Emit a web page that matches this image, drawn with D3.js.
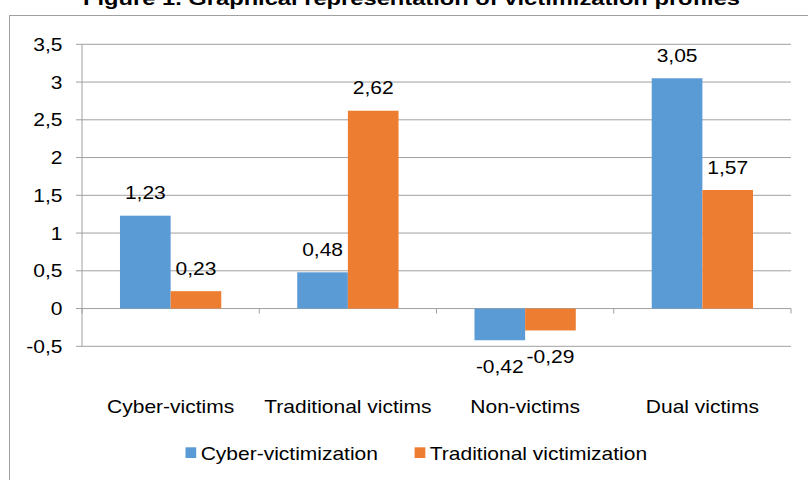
<!DOCTYPE html>
<html lang="en">
<head>
  <meta charset="UTF-8">
  <title>Graphical representation of victimization profiles</title>
  <script src="https://d3js.org/d3.v7.min.js"></script>
  <style>
    body {
      margin: 0;
      background: #fff;
      font-family: "Liberation Sans", Arial, sans-serif;
    }
    svg {
      display: block;
    }
    .grid line {
      stroke: #a0a0a0;
      stroke-width: 1px;
    }
    .lbl {
      font-size: 17.5px;
      fill: #000;
    }
  </style>
</head>
<body>
  <svg width="808" height="480"></svg>

  <script>
    const categories = ["Cyber-victims", "Traditional victims", "Non-victims", "Dual victims"];
    const seriesNames = ["Cyber-victimization", "Traditional victimization"];
    const cyberValues = [1.23, 0.48, -0.42, 3.05];
    const traditionalValues = [0.23, 2.62, -0.29, 1.57];
    const yTicks = [-0.5, 0, 0.5, 1, 1.5, 2, 2.5, 3, 3.5];

    const colors = ["#5B9BD5", "#ED7D31"];
    const stretch = 1.2; // the picture is a bit wider than it is tall
    const comma = v => String(v).replace(".", ",");

    const width = 808, height = 480;
    const plotLeft = 82, plotRight = 791, plotTop = 44.3, plotBottom = 346.3;

    const svg = d3.select("svg");

    // outer frame, only its top and left edges are in view
    svg.append("rect")
      .attr("x", 9.5).attr("y", 15.5)
      .attr("width", 900).attr("height", 600)
      .attr("fill", "none")
      .attr("stroke", "#a0a0a0");

    // helper for the widened text
    function label(g, x, y, txt, anchor) {
      return g.append("text")
        .attr("class", "lbl")
        .attr("text-anchor", anchor || "middle")
        .attr("transform", `translate(${x},${y}) scale(${stretch},1)`)
        .text(txt);
    }

    // title, cut off by the top edge
    svg.append("text")
      .attr("x", 83).attr("y", 4.5)
      .attr("font-weight", "bold")
      .attr("font-size", "17.5px")
      .attr("textLength", 657)
      .attr("lengthAdjust", "spacingAndGlyphs")
      .text("Figure 1. Graphical representation of victimization profiles");

    const y = d3.scaleLinear().domain([-0.5, 3.5]).range([plotBottom, plotTop]);
    const x0 = d3.scaleBand().domain(categories).range([plotLeft, plotRight]);
    const bw = x0.bandwidth();
    const x1 = d3.scaleBand().domain(seriesNames)
      .range([bw * 0.75 / 3.5, bw * 2.75 / 3.5]);

    // gridlines and y ticks
    const grid = svg.append("g").attr("class", "grid");
    grid.selectAll("line.h")
      .data(yTicks)
      .enter().append("line")
      .attr("x1", plotLeft - 6).attr("x2", plotRight)
      .attr("y1", d => y(d)).attr("y2", d => y(d));
    grid.append("line")
      .attr("x1", plotLeft).attr("x2", plotLeft)
      .attr("y1", plotTop).attr("y2", plotBottom);

    // category tick marks under the zero line
    grid.selectAll("line.t")
      .data(d3.range(categories.length + 1))
      .enter().append("line")
      .attr("x1", i => plotLeft + i * bw).attr("x2", i => plotLeft + i * bw)
      .attr("y1", y(0)).attr("y2", y(0) + 5);

    const yl = svg.append("g");
    yTicks.forEach(t => label(yl, 62.5, y(t) + 6.5, comma(t), "end"));

    // bars
    const rows = categories.map((c, i) => ({
      cat: c,
      vals: [
        { s: seriesNames[0], v: cyberValues[i] },
        { s: seriesNames[1], v: traditionalValues[i] }
      ]
    }));

    const groups = svg.selectAll("g.cat")
      .data(rows)
      .enter().append("g")
      .attr("class", "cat")
      .attr("transform", d => `translate(${x0(d.cat)},0)`);

    groups.selectAll("rect")
      .data(d => d.vals)
      .enter().append("rect")
      .attr("x", d => x1(d.s))
      .attr("y", d => y(Math.max(0, d.v)))
      .attr("width", x1.bandwidth())
      .attr("height", d => Math.abs(y(d.v) - y(0)))
      .attr("fill", (d, i) => colors[i]);

    groups.each(function (d) {
      const g = d3.select(this);
      d.vals.forEach(p => {
        const cx = x1(p.s) + x1.bandwidth() / 2;
        const ly = p.v >= 0 ? y(p.v) - 16.4 : y(p.v) + 32.5;
        label(g, cx, ly, comma(p.v.toFixed(2)));
      });
    });

    // category labels
    const xl = svg.append("g");
    categories.forEach(c => label(xl, x0(c) + bw / 2, 413, c));

    // legend
    const legend = svg.append("g");
    let lx = 185.5;
    seriesNames.forEach((s, i) => {
      legend.append("rect")
        .attr("x", lx).attr("y", 447.3)
        .attr("width", 10.7).attr("height", 10.7)
        .attr("fill", colors[i]);
      const t = label(legend, lx + 15.2, 460, s, "start");
      lx += 15.2 + t.node().getComputedTextLength() * stretch + 36.7;
    });
  </script>
</body>
</html>
